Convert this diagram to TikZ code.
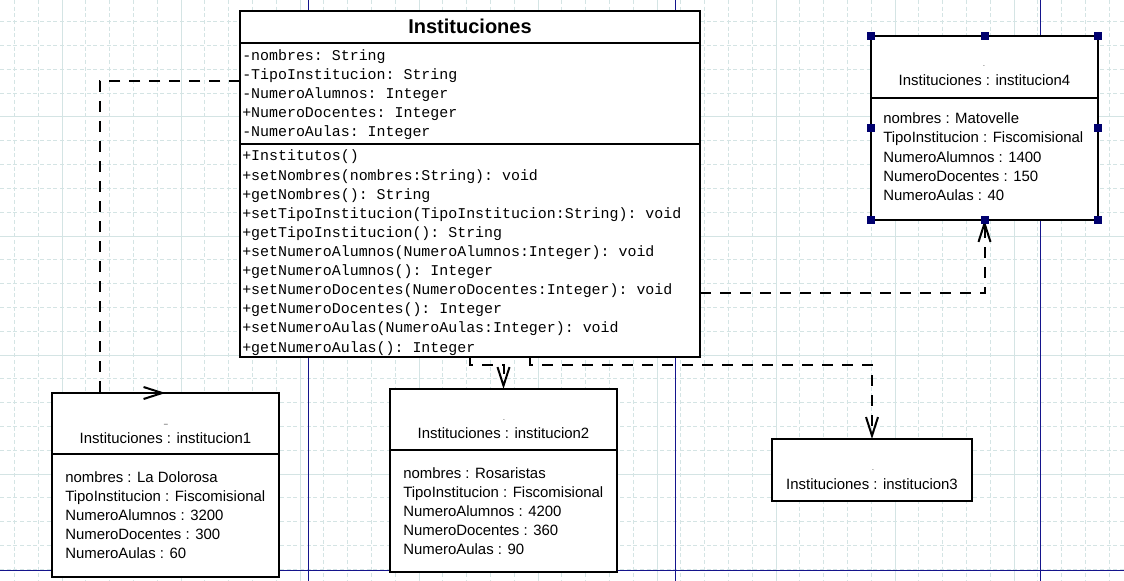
\documentclass[tikz,border=0pt]{standalone}
\usepackage{fontspec}
\setmainfont{Liberation Sans}
\setmonofont{Liberation Mono}
\usetikzlibrary{arrows.meta}
\definecolor{gridc}{RGB}{212,228,228}
\definecolor{pagec}{RGB}{20,20,140}
\definecolor{handlec}{RGB}{0,0,110}

\begin{document}
\begin{tikzpicture}[x=0.75pt,y=-0.75pt,
    box/.style={draw,line width=1.5pt,fill=white,anchor=north west,inner sep=0pt,outer sep=0pt},
    boxsize/.style 2 args={minimum width=#1*0.75pt,minimum height=#2*0.75pt},
    sep/.style={line width=1.5pt},
    dep/.style={line width=1.5pt,dash pattern=on 8pt off 7pt,-{Straight Barb[length=14pt,width=9pt]}},
    mono/.style={font=\ttfamily\fontsize{11.2}{13}\selectfont,anchor=base west,inner sep=0pt},
    objrow/.style={font=\fontsize{11.2}{13}\selectfont,anchor=base west,inner sep=0pt},
    objtitle/.style={objrow,anchor=base},
    gridminor/.style={gridc,line width=0.75pt,dash pattern=on 3pt off 2pt},
    gridmajor/.style={gridc,line width=0.75pt},
    pagebreak/.style={pagec,line width=0.75pt}]
    \useasboundingbox (0,0) rectangle (1124,581);
    \fill[white] (0,0) rectangle (1124,581);
    \foreach \k in {-2,...,44}
    {
        \draw[gridminor] ({62+23.8*\k},0)--({62+23.8*\k},581);
    }
    \foreach \k in {-4,...,19}
    {
        \draw[gridminor] (0,{117+23.8*\k})--(1124,{117+23.8*\k});
    }
    \foreach \k in {0,...,8}
    {
        \draw[gridmajor] ({62+119*\k},0)--({62+119*\k},581);
    }
    \foreach \k in {-1,...,3}
    {
        \draw[gridmajor] (0,{117+119*\k})--(1124,{117+119*\k});
    }
    \foreach \x in {308,675,1040}
    {
        \draw[pagebreak] (\x,0)--(\x,581);
    }
    \draw[pagebreak] (0,570)--(1124,570);

    \node[box,boxsize={460}{346}] (cls) at (240,11) {};
    \draw[sep] (240,43)--(700,43);
    \draw[sep] (240,144)--(700,144);
    \node[font=\bfseries\fontsize{15}{18}\selectfont,anchor=base] (clsname) at (470,34) {Instituciones};
    \foreach \t [count=\i from 0] in {{-nombres: String},{-TipoInstitucion: String},{-NumeroAlumnos: Integer},{+NumeroDocentes: Integer},{-NumeroAulas: Integer}}
    {
        \node[mono] at (242,{61+19*\i}) {\t};
    }
    \foreach \t [count=\i from 0] in {{+Institutos()},{+setNombres(nombres:String): void},{+getNombres(): String},{+setTipoInstitucion(TipoInstitucion:String): void},{+getTipoInstitucion(): String},{+setNumeroAlumnos(NumeroAlumnos:Integer): void},{+getNumeroAlumnos(): Integer},{+setNumeroDocentes(NumeroDocentes:Integer): void},{+getNumeroDocentes(): Integer},{+setNumeroAulas(NumeroAulas:Integer): void},{+getNumeroAulas(): Integer}}
    {
        \node[mono] at (242,{161+19.1*\i}) {\t};
    }

    \node[box,boxsize={227}{184}] (o1) at (52,393) {};
    \draw[sep] (52,454)--(279,454);
    \node[objtitle,font=\tiny] at (166,423) {\_};
    \node[objtitle] (o1name) at (165.5,443) {Instituciones : institucion1};
    \foreach \t [count=\i from 0] in {{nombres : La Dolorosa},{TipoInstitucion : Fiscomisional},{NumeroAlumnos : 3200},{NumeroDocentes : 300},{NumeroAulas : 60}}
    {
        \node[objrow] at (65,{482+19*\i}) {\t};
    }

    \node[box,boxsize={227}{183}] (o2) at (390,389) {};
    \draw[sep] (390,450)--(617,450);
    \node[objtitle,font=\tiny] at (504,420) {.};
    \node[objtitle] (o2name) at (503.5,438) {Instituciones : institucion2};
    \foreach \t [count=\i from 0] in {{nombres : Rosaristas},{TipoInstitucion : Fiscomisional},{NumeroAlumnos : 4200},{NumeroDocentes : 360},{NumeroAulas : 90}}
    {
        \node[objrow] at (403,{478+19*\i}) {\t};
    }

    \node[box,boxsize={200}{62}] (o3) at (772,439) {};
    \node[objtitle,font=\tiny] at (873,470) {.};
    \node[objtitle] (o3name) at (872,489) {Instituciones : institucion3};

    \node[box,boxsize={227}{184}] (o4) at (871,36) {};
    \draw[sep] (871,98)--(1098,98);
    \node[objtitle,font=\tiny] at (984,67) {.};
    \node[objtitle] (o4name) at (984.5,86) {Instituciones : institucion4};
    \foreach \t [count=\i from 0] in {{nombres : Matovelle},{TipoInstitucion : Fiscomisional},{NumeroAlumnos : 1400},{NumeroDocentes : 150},{NumeroAulas : 40}}
    {
        \node[objrow] at (883,{124+19*\i}) {\t};
    }

    \coordinate (a1) at (240,81);
    \coordinate (a2) at (470,357);
    \coordinate (a3) at (530,357);
    \coordinate (a4) at (700,293);
    \draw[dep] (a1)--(100,81)|-(o1.north);
    \draw[dep] (a2)--++(0,8)-|(o2.north);
    \draw[dep] (a3)--++(0,8)-|(o3.north);
    \draw[dep] (a4)-|(o4.south);

    \foreach \a in {north west,north,north east,east,south east,south,south west,west}
    {
        \fill[handlec] (o4.\a) ++(-4,-4) rectangle ++(8,8);
    }
\end{tikzpicture}
\end{document}
